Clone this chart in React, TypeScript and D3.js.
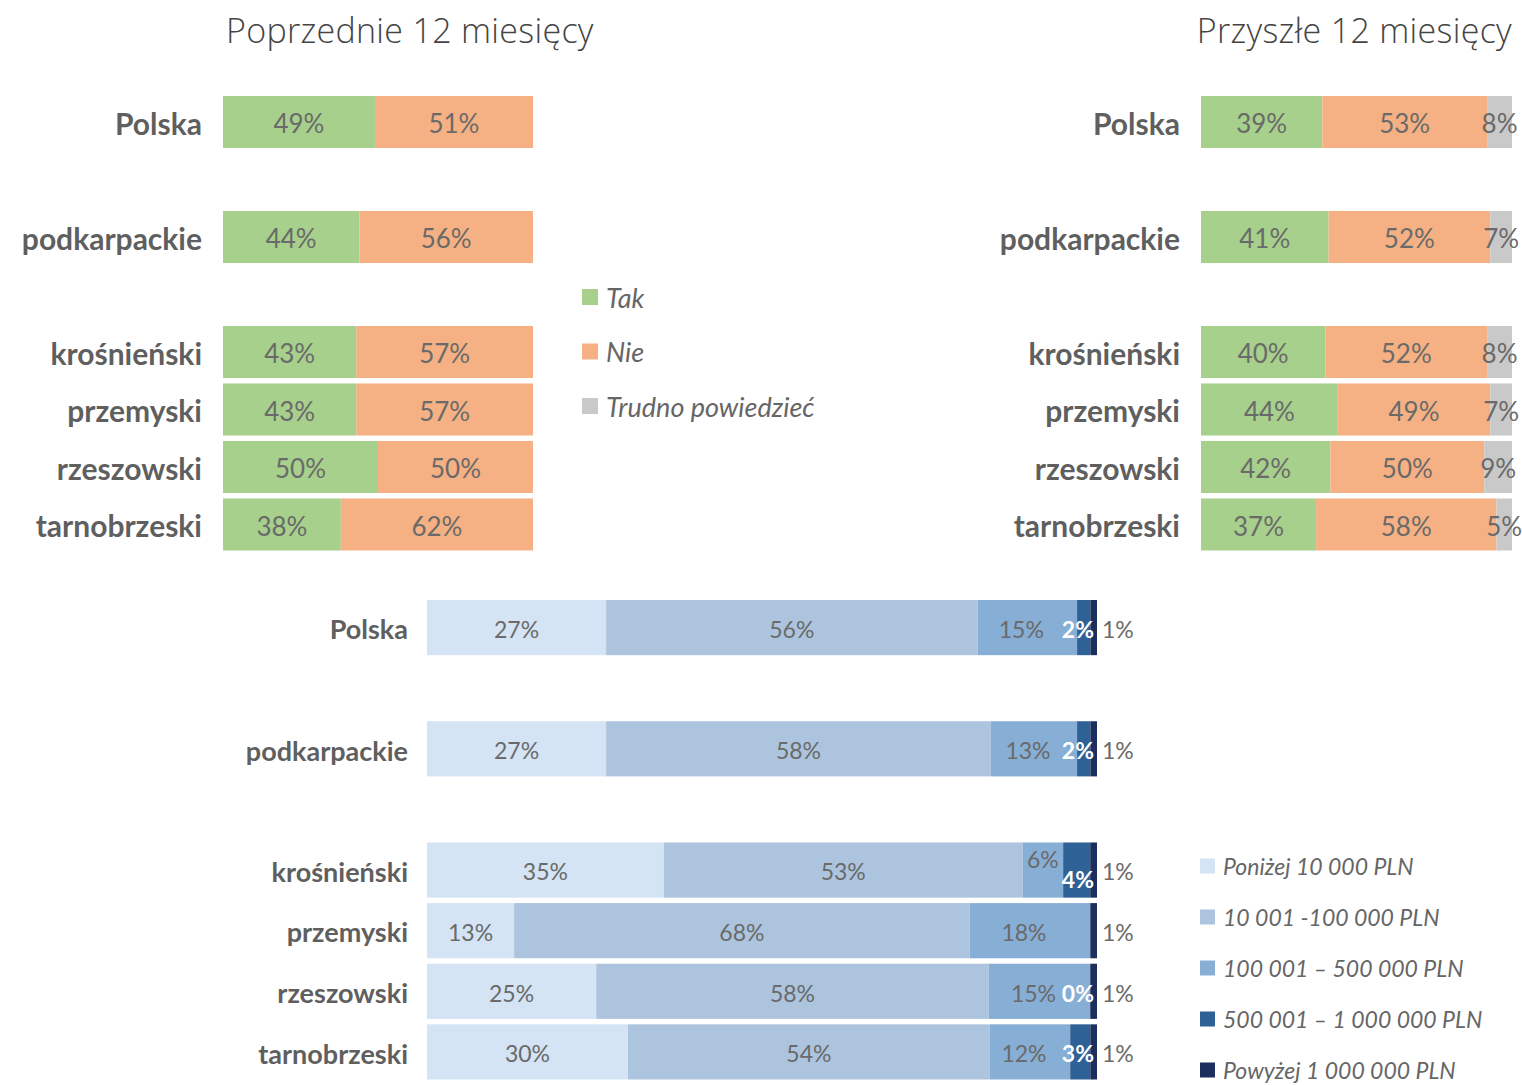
import React from "react";
import * as d3 from "d3";

const rowSlots = ["Polska", "_gap1", "podkarpackie", "_gap2", "krośnieński", "przemyski", "rzeszowski", "tarnobrzeski"];
const categories = ["Polska", "podkarpackie", "krośnieński", "przemyski", "rzeszowski", "tarnobrzeski"];

const prevTak = [49, 44, 43, 43, 50, 38];
const prevNie = [51, 56, 57, 57, 50, 62];

const nextTak = [39, 41, 40, 44, 42, 37];
const nextNie = [53, 52, 52, 49, 50, 58];
const nextTrudno = [8, 7, 8, 7, 9, 5];

const below10k: (number | null)[] = [27, 27, 35, 13, 25, 30];
const from10kTo100k: (number | null)[] = [56, 58, 53, 68, 58, 54];
const from100kTo500k: (number | null)[] = [15, 13, 6, 18, 15, 12];
const from500kTo1m: (number | null)[] = [2, 2, 4, null, 0, 3];
const above1m: (number | null)[] = [1, 1, 1, 1, 1, 1];

const ynLegend = ["Tak", "Nie", "Trudno powiedzieć"];
const ynColors = ["#a6d08b", "#f5b183", "#c9c9c9"];
const valLegend = ["Poniżej 10 000 PLN", "10 001 -100 000 PLN", "100 001 – 500 000 PLN", "500 001 – 1 000 000 PLN", "Powyżej 1 000 000 PLN"];
const valColors = ["#d4e4f4", "#adc4de", "#87aed5", "#2e6196", "#1c2e5e"];

const titlePrev = "Poprzednie 12 miesięcy";
const titleNext = "Przyszłe 12 miesięcy";

const FONT = "Lato, 'Open Sans', sans-serif";
const LABEL_COLOR = "#5f5f5f";
const VAL_COLOR = "#6a6a6a";

type Seg = { key: number; x0: number; x1: number; v: number | null };

function stackRow(vals: (number | null)[], x: d3.ScaleLinear<number, number>): Seg[] {
  const total = d3.sum(vals.map((v) => v ?? 0));
  let acc = 0;
  return vals.map((v, i) => {
    const a = acc;
    acc += (v ?? 0) / total;
    return { key: i, x0: x(a), x1: x(acc), v };
  });
}

function StackPanel({
  series,
  colors,
  xRange,
  yScale,
  labelX,
  labelSize,
  valueSize,
  variant,
}: {
  series: (number | null)[][];
  colors: string[];
  xRange: [number, number];
  yScale: d3.ScaleBand<string>;
  labelX: number;
  labelSize: number;
  valueSize: number;
  variant: "yn" | "val";
}) {
  const x = d3.scaleLinear().domain([0, 1]).range(xRange);
  const bh = yScale.bandwidth();
  return (
    <g>
      {categories.map((cat, ri) => {
        const y = yScale(cat)!;
        const vals = series.map((s) => s[ri]);
        const segs = stackRow(vals, x);
        const cy = y + bh / 2 + 2;
        const narrow3 = variant === "val" && segs[2].x1 - segs[2].x0 < 50 && (vals[3] ?? 0) > 0;
        return (
          <g key={cat}>
            <text x={labelX} y={cy} dy="0.36em" textAnchor="end" fontFamily={FONT} fontWeight={700} fontSize={labelSize} fill={LABEL_COLOR}>
              {cat}
            </text>
            {segs.map((s) => (
              <rect key={s.key} x={s.x0} y={y} width={Math.max(0, s.x1 - s.x0)} height={bh} fill={colors[s.key]} />
            ))}
            {segs.map((s) => {
              if (s.v === null) return null;
              const label = `${Math.round(s.v)}%`;
              if (variant === "yn") {
                return (
                  <text key={s.key} x={(s.x0 + s.x1) / 2} y={cy} dy="0.36em" textAnchor="middle" fontFamily={FONT} fontSize={valueSize} fill={VAL_COLOR}>
                    {label}
                  </text>
                );
              }
              if (s.key === 4) {
                return (
                  <text key={s.key} x={xRange[1] + 5} y={cy} dy="0.36em" textAnchor="start" fontFamily={FONT} fontSize={valueSize} fill={VAL_COLOR}>
                    {label}
                  </text>
                );
              }
              if (s.key === 3) {
                return (
                  <text key={s.key} x={xRange[1] - 3} y={cy + (narrow3 ? 8 : 0)} dy="0.36em" textAnchor="end" fontFamily={FONT} fontWeight={700} fontSize={valueSize} fill="#ffffff">
                    {label}
                  </text>
                );
              }
              if (s.key === 2) {
                return (
                  <text key={s.key} x={narrow3 ? (s.x0 + s.x1) / 2 : (s.x0 + s.x1) / 2 - 6} y={cy - (narrow3 ? 12 : 0)} dy="0.36em" textAnchor="middle" fontFamily={FONT} fontSize={valueSize} fill={VAL_COLOR}>
                    {label}
                  </text>
                );
              }
              return (
                <text key={s.key} x={(s.x0 + s.x1) / 2} y={cy} dy="0.36em" textAnchor="middle" fontFamily={FONT} fontSize={valueSize} fill={VAL_COLOR}>
                  {label}
                </text>
              );
            })}
          </g>
        );
      })}
    </g>
  );
}

function Legend({ items, colors, x, y0, step, size, fontSize }: { items: string[]; colors: string[]; x: number; y0: number; step: number; size: number; fontSize: number }) {
  return (
    <g>
      {items.map((it, i) => {
        const cy = y0 + i * step;
        return (
          <g key={it}>
            <rect x={x} y={cy - size / 2} width={size} height={size} fill={colors[i]} />
            <text x={x + size + 8} y={cy + 1} dy="0.36em" fontFamily={FONT} fontStyle="italic" fontSize={fontSize} fill="#666">
              {it}
            </text>
          </g>
        );
      })}
    </g>
  );
}

export default function App() {
  const W = 1522;
  const H = 1085;
  const yTop = d3.scaleBand<string>().domain(rowSlots).range([96, 96 + 454.5]).paddingInner(0.095).paddingOuter(0);
  const yBot = d3.scaleBand<string>().domain(rowSlots).range([600, 600 + 479.5]).paddingInner(0.09).paddingOuter(0);

  return (
    <svg width={W} height={H} style={{ position: "absolute", left: 0, top: 0, background: "#fff" }}>
      <rect x={0} y={0} width={W} height={H} fill="#ffffff" />
      <text x={226} y={31} dy="0.36em" fontFamily="'Open Sans', sans-serif" fontWeight={300} fontSize={34} letterSpacing={0.3} fill="#454545">
        {titlePrev}
      </text>
      <text x={1512} y={31} dy="0.36em" textAnchor="end" fontFamily="'Open Sans', sans-serif" fontWeight={300} fontSize={34} letterSpacing={0.3} fill="#454545">
        {titleNext}
      </text>

      <StackPanel series={[prevTak, prevNie]} colors={ynColors} xRange={[223, 533]} yScale={yTop} labelX={202} labelSize={30} valueSize={26} variant="yn" />
      <StackPanel series={[nextTak, nextNie, nextTrudno]} colors={ynColors} xRange={[1201, 1512]} yScale={yTop} labelX={1180} labelSize={30} valueSize={26} variant="yn" />
      <Legend items={ynLegend} colors={ynColors} x={582} y0={297} step={54.5} size={16} fontSize={27} />

      <StackPanel
        series={[below10k, from10kTo100k, from100kTo500k, from500kTo1m, above1m]}
        colors={valColors}
        xRange={[427, 1097]}
        yScale={yBot}
        labelX={408}
        labelSize={27}
        valueSize={23}
        variant="val"
      />
      <Legend items={valLegend} colors={valColors} x={1200} y0={866} step={51} size={15} fontSize={23} />
    </svg>
  );
}
